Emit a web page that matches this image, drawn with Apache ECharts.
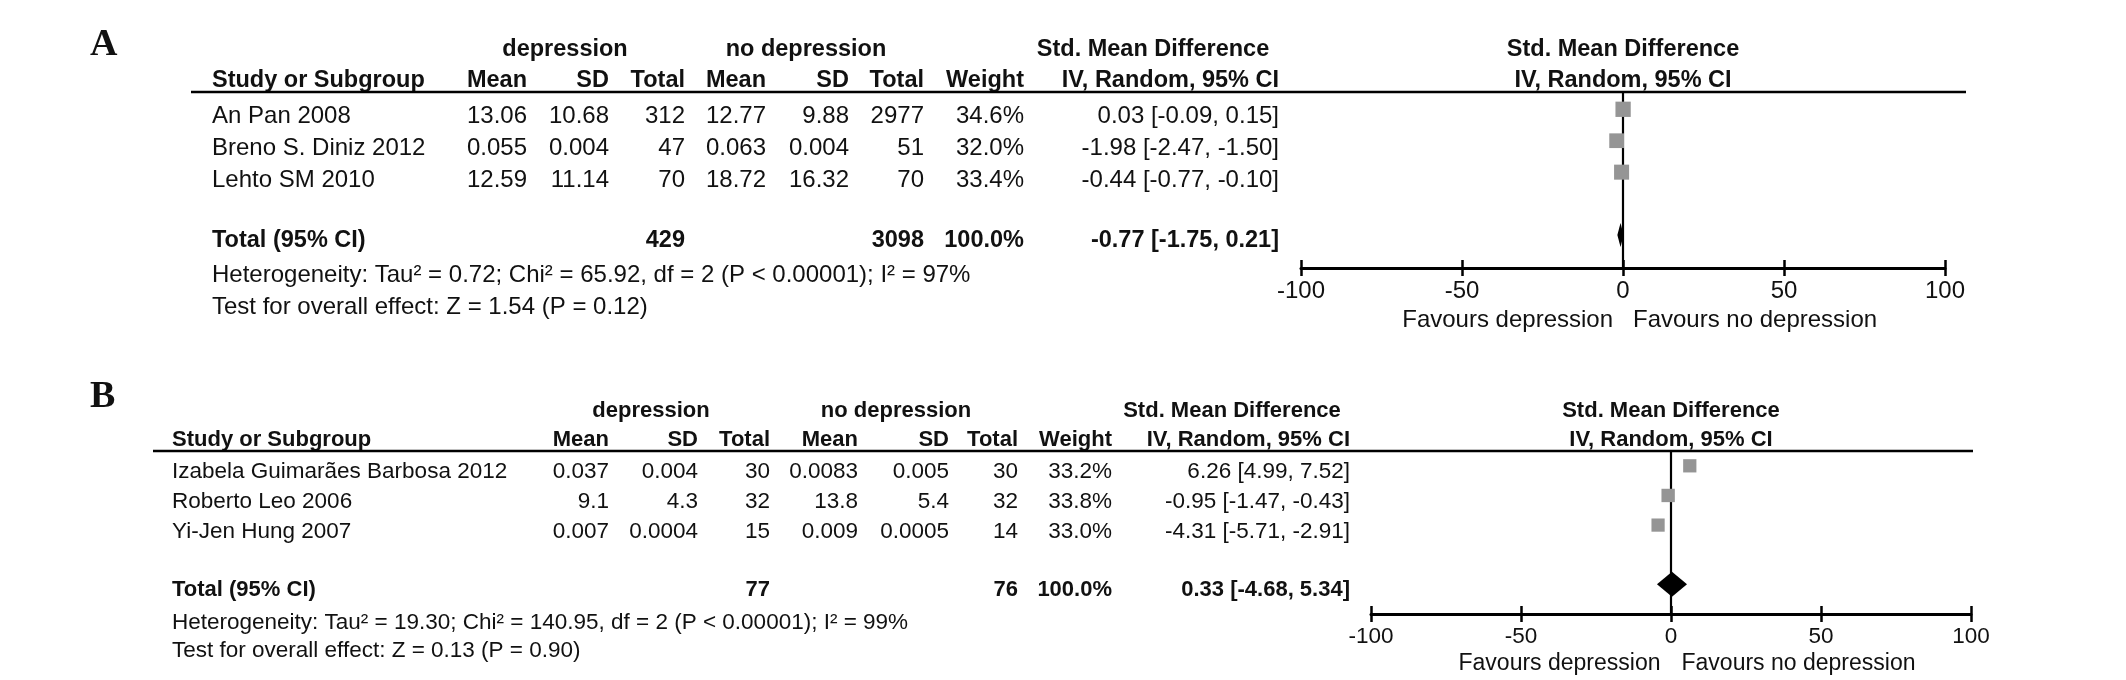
<!DOCTYPE html>
<html><head><meta charset="utf-8">
<script src="https://cdn.jsdelivr.net/npm/echarts@6/dist/echarts.min.js"></script>
<style>html,body{margin:0;padding:0;background:#fff}#c{width:2126px;height:680px}</style>
</head><body><div id="c"></div>
<script>
// ---------- shared labels ----------
const groupHeads = ['depression', 'no depression'];
const colHeads = ['Mean', 'SD', 'Total', 'Mean', 'SD', 'Total', 'Weight', 'IV, Random, 95% CI'];
const studyHead = 'Study or Subgroup';
const smdHead = 'Std. Mean Difference';
const totalLabel = 'Total (95% CI)';
const favours = ['Favours depression', 'Favours no depression'];
const xTicks = [-100, -50, 0, 50, 100];

// ---------- panel A data ----------
const studiesA = ['An Pan 2008', 'Breno S. Diniz 2012', 'Lehto SM 2010'];
const depMeanA = [13.06, 0.055, 12.59];
const depSdA = [10.68, 0.004, 11.14];
const depNA = [312, 47, 70];
const ctlMeanA = [12.77, 0.063, 18.72];
const ctlSdA = [9.88, 0.004, 16.32];
const ctlNA = [2977, 51, 70];
const weightA = [34.6, 32.0, 33.4];
const smdA = [0.03, -1.98, -0.44];
const loA = [-0.09, -2.47, -0.77];
const hiA = [0.15, -1.50, -0.10];
const totalSmdA = [-0.77, -1.75, 0.21];
const totalNA = [429, 3098];
const totalWeightA = 100.0;
const hetA = 'Heterogeneity: Tau² = 0.72; Chi² = 65.92, df = 2 (P < 0.00001); I² = 97%';
const testA = 'Test for overall effect: Z = 1.54 (P = 0.12)';

// ---------- panel B data ----------
const studiesB = ['Izabela Guimarães Barbosa 2012', 'Roberto Leo 2006', 'Yi-Jen Hung 2007'];
const depMeanB = [0.037, 9.1, 0.007];
const depSdB = [0.004, 4.3, 0.0004];
const depNB = [30, 32, 15];
const ctlMeanB = [0.0083, 13.8, 0.009];
const ctlSdB = [0.005, 5.4, 0.0005];
const ctlNB = [30, 32, 14];
const weightB = [33.2, 33.8, 33.0];
const smdB = [6.26, -0.95, -4.31];
const loB = [4.99, -1.47, -5.71];
const hiB = [7.52, -0.43, -2.91];
const totalSmdB = [0.33, -4.68, 5.34];
const totalNB = [77, 76];
const totalWeightB = 100.0;
const hetB = 'Heterogeneity: Tau² = 19.30; Chi² = 140.95, df = 2 (P < 0.00001); I² = 99%';
const testB = 'Test for overall effect: Z = 0.13 (P = 0.90)';

// ---------- layout (positions / sizes / styles) ----------
const FONT = '"Liberation Sans", Arial, Helvetica, sans-serif';
const SERIF = '"Liberation Serif", "Times New Roman", serif';
const TXT = '#111111';
const LA = {
  label: 'A', labelX: 90, labelY: 45, labelSize: 38,
  fs: 24, fsb: 23.5, pfs: 24, tfs: 24,
  h1: 50, h2: 81, rule: 92, ruleX1: 191, ruleX2: 1966,
  rows: [116, 148, 180], totalY: 241, hetY: 275, testY: 307,
  nameX: 212, cols: [527, 609, 685, 766, 849, 924, 1024, 1279],
  depC: 565, ctlC: 806, smdC: 1153,
  grid: { left: 1301, width: 644, top: 92, height: 176 },
  yMin: -0.55, yMax: 5.05, sqK: 2.6, diaH: 24, favY: 320, favGap: 10, labMargin: 11
};
const LB = {
  label: 'B', labelX: 90, labelY: 397, labelSize: 38,
  fs: 22.5, fsb: 22, pfs: 23, tfs: 22.5,
  h1: 411, h2: 440, rule: 451, ruleX1: 153, ruleX2: 1973,
  rows: [472, 502, 532], totalY: 590, hetY: 623, testY: 651,
  nameX: 172, cols: [609, 698, 770, 858, 949, 1018, 1112, 1350],
  depC: 651, ctlC: 896, smdC: 1232,
  grid: { left: 1371, width: 600, top: 451, height: 163 },
  yMin: -0.5, yMax: 5.0, sqK: 2.3, diaH: 25, favY: 664, favGap: 10.5, labMargin: 11
};

function T(x, y, text, o) {
  o = o || {};
  return {
    type: 'text', x: x, y: y, silent: true, z: 10,
    style: {
      text: String(text), fill: TXT, fontFamily: o.family || FONT,
      fontSize: o.size, fontWeight: o.bold ? 'bold' : 'normal',
      align: o.align || 'left', verticalAlign: 'middle'
    }
  };
}
const f2 = v => v.toFixed(2);
const ciText = (e, l, h) => f2(e) + ' [' + f2(l) + ', ' + f2(h) + ']';

function buildPanel(L, D, gBase) {
  const els = [];
  const xMin = xTicks[0], xMax = xTicks[xTicks.length - 1];
  const zeroPx = L.grid.left + L.grid.width * (0 - xMin) / (xMax - xMin);
  els.push(T(L.labelX, L.labelY, L.label, { size: L.labelSize, bold: true, family: SERIF }));
  // header row 1
  els.push(T(L.depC, L.h1, groupHeads[0], { size: L.fsb, bold: true, align: 'center' }));
  els.push(T(L.ctlC, L.h1, groupHeads[1], { size: L.fsb, bold: true, align: 'center' }));
  els.push(T(L.smdC, L.h1, smdHead, { size: L.fsb, bold: true, align: 'center' }));
  els.push(T(zeroPx, L.h1, smdHead, { size: L.fsb, bold: true, align: 'center' }));
  // header row 2
  els.push(T(L.nameX, L.h2, studyHead, { size: L.fsb, bold: true }));
  colHeads.forEach((h, i) => els.push(T(L.cols[i], L.h2, h, { size: L.fsb, bold: true, align: 'right' })));
  els.push(T(zeroPx, L.h2, colHeads[7], { size: L.fsb, bold: true, align: 'center' }));
  // rule
  els.push({ type: 'line', silent: true, z: 10, shape: { x1: L.ruleX1, y1: L.rule, x2: L.ruleX2, y2: L.rule },
    style: { stroke: '#000', lineWidth: 2.5 } });
  // study rows
  D.studies.forEach((s, i) => {
    const y = L.rows[i];
    els.push(T(L.nameX, y, s, { size: L.fs }));
    const vals = [D.depMean[i], D.depSd[i], D.depN[i], D.ctlMean[i], D.ctlSd[i], D.ctlN[i],
      D.weight[i].toFixed(1) + '%', ciText(D.smd[i], D.lo[i], D.hi[i])];
    vals.forEach((v, j) => els.push(T(L.cols[j], y, v, { size: L.fs, align: 'right' })));
  });
  // total row
  els.push(T(L.nameX, L.totalY, totalLabel, { size: L.fsb, bold: true }));
  els.push(T(L.cols[2], L.totalY, D.totalN[0], { size: L.fsb, bold: true, align: 'right' }));
  els.push(T(L.cols[5], L.totalY, D.totalN[1], { size: L.fsb, bold: true, align: 'right' }));
  els.push(T(L.cols[6], L.totalY, D.totalWeight.toFixed(1) + '%', { size: L.fsb, bold: true, align: 'right' }));
  els.push(T(L.cols[7], L.totalY, ciText(D.totalSmd[0], D.totalSmd[1], D.totalSmd[2]), { size: L.fsb, bold: true, align: 'right' }));
  els.push(T(L.nameX, L.hetY, D.het, { size: L.fs }));
  els.push(T(L.nameX, L.testY, D.test, { size: L.fs }));
  // favours
  els.push(T(zeroPx - L.favGap, L.favY, favours[0], { size: L.pfs, align: 'right' }));
  els.push(T(zeroPx + L.favGap, L.favY, favours[1], { size: L.pfs, align: 'left' }));

  const grids = [
    Object.assign({ outerBoundsMode: 'none', containLabel: false }, L.grid),
    Object.assign({ outerBoundsMode: 'none', containLabel: false }, L.grid)
  ];
  const interval = xTicks[1] - xTicks[0];
  const xAxes = [
    { gridIndex: gBase, type: 'value', min: xMin, max: xMax, interval: interval,
      axisLine: { show: true, onZero: false, lineStyle: { color: '#000', width: 3 } },
      axisTick: { show: true, inside: false, length: 8, lineStyle: { color: '#000', width: 2.5 } },
      axisLabel: { show: true, margin: L.labMargin, color: TXT, fontSize: L.tfs, fontFamily: FONT },
      splitLine: { show: false } },
    { gridIndex: gBase + 1, type: 'value', min: xMin, max: xMax, interval: interval,
      axisLine: { show: false, onZero: false },
      axisTick: { show: true, inside: true, length: 8, lineStyle: { color: '#000', width: 2.5 } },
      axisLabel: { show: false }, splitLine: { show: false } }
  ];
  const yAxes = [
    { gridIndex: gBase, type: 'value', min: L.yMin, max: L.yMax, inverse: true, show: false },
    { gridIndex: gBase + 1, type: 'value', min: 0, max: 1, show: false }
  ];
  const totalRow = D.studies.length + 1;
  const series = [
    { type: 'scatter', xAxisIndex: gBase, yAxisIndex: gBase, z: 1, symbolSize: 0, silent: true,
      data: [[0, 0]],
      markLine: { silent: true, symbol: 'none', animation: false, label: { show: false },
        lineStyle: { color: '#000', width: 2.2, type: 'solid' }, data: [{ xAxis: 0 }] } },
    { type: 'custom', xAxisIndex: gBase, yAxisIndex: gBase, z: 5, silent: true,
      data: D.smd.map((v, i) => [v, i, D.lo[i], D.hi[i], D.weight[i]]),
      renderItem: function (params, api) {
        const c = api.coord([api.value(0), api.value(1)]);
        const l = api.coord([api.value(2), api.value(1)]);
        const h = api.coord([api.value(3), api.value(1)]);
        const s = Math.sqrt(api.value(4)) * L.sqK;
        return { type: 'group', children: [
          { type: 'line', shape: { x1: l[0], y1: l[1], x2: h[0], y2: h[1] }, style: { stroke: '#000', lineWidth: 1.5 } },
          { type: 'rect', shape: { x: c[0] - s / 2, y: c[1] - s / 2, width: s, height: s }, style: { fill: '#959595' } }
        ] };
      } },
    { type: 'custom', xAxisIndex: gBase, yAxisIndex: gBase, z: 6, silent: true,
      data: [[D.totalSmd[0], totalRow, D.totalSmd[1], D.totalSmd[2]]],
      renderItem: function (params, api) {
        const c = api.coord([api.value(0), api.value(1)]);
        const l = api.coord([api.value(2), api.value(1)]);
        const h = api.coord([api.value(3), api.value(1)]);
        const H = L.diaH / 2;
        return { type: 'polygon', shape: { points: [[l[0], c[1]], [c[0], c[1] - H], [h[0], c[1]], [c[0], c[1] + H]] },
          style: { fill: '#000' } };
      } }
  ];
  return { els, grids, xAxes, yAxes, series };
}

const A = buildPanel(LA, {
  studies: studiesA, depMean: depMeanA, depSd: depSdA, depN: depNA, ctlMean: ctlMeanA, ctlSd: ctlSdA,
  ctlN: ctlNA, weight: weightA, smd: smdA, lo: loA, hi: hiA, totalSmd: totalSmdA, totalN: totalNA,
  totalWeight: totalWeightA, het: hetA, test: testA
}, 0);
const B = buildPanel(LB, {
  studies: studiesB, depMean: depMeanB, depSd: depSdB, depN: depNB, ctlMean: ctlMeanB, ctlSd: ctlSdB,
  ctlN: ctlNB, weight: weightB, smd: smdB, lo: loB, hi: hiB, totalSmd: totalSmdB, totalN: totalNB,
  totalWeight: totalWeightB, het: hetB, test: testB
}, 2);

const chart = echarts.init(document.getElementById('c'), null, { renderer: 'canvas' });
chart.setOption({
  animation: false,
  backgroundColor: '#ffffff',
  textStyle: { fontFamily: FONT },
  grid: A.grids.concat(B.grids),
  xAxis: A.xAxes.concat(B.xAxes),
  yAxis: A.yAxes.concat(B.yAxes),
  series: A.series.concat(B.series),
  graphic: { elements: A.els.concat(B.els) }
});
</script>
</body></html>
